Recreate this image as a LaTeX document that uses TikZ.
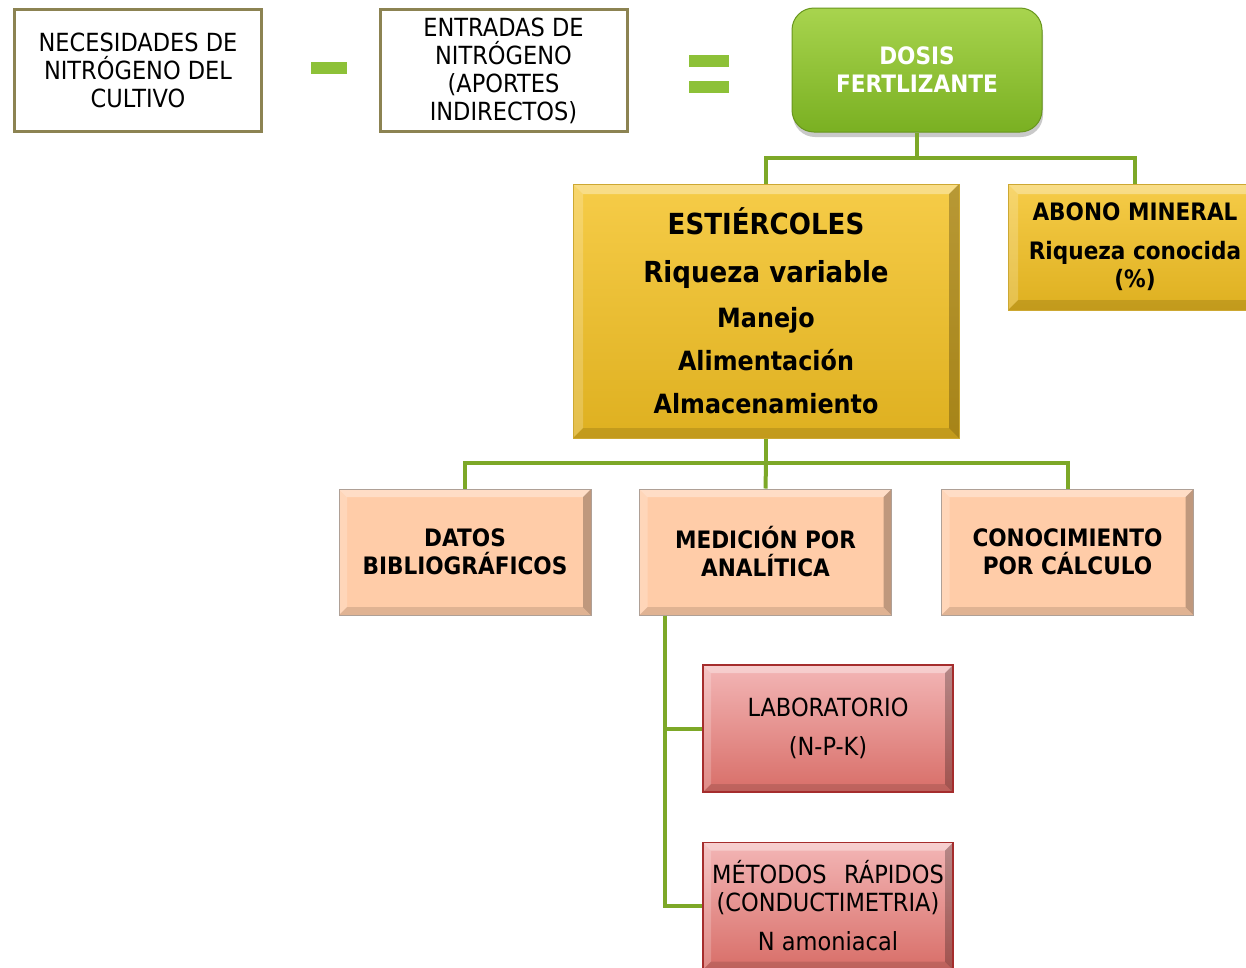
\documentclass[tikz,border=0pt]{standalone}
\usepackage{fontspec}
\setmainfont[FakeStretch=0.9]{DejaVu Sans}
\usetikzlibrary{shadows}
\definecolor{olivebd}{RGB}{140,131,82}
\definecolor{barg}{RGB}{141,193,56}
\definecolor{conng}{RGB}{125,168,40}
\definecolor{dosistop}{RGB}{168,212,78}
\definecolor{dosisbot}{RGB}{122,176,34}
\definecolor{goldtop}{RGB}{246,204,72}
\definecolor{goldbot}{RGB}{222,176,32}
\definecolor{goldbd}{RGB}{205,168,50}
\definecolor{peach}{RGB}{255,204,168}
\definecolor{peachbd}{RGB}{175,160,150}
\definecolor{redtop}{RGB}{243,182,182}
\definecolor{redbot}{RGB}{216,110,104}
\definecolor{redbd}{RGB}{165,45,45}
\tikzset{
  bevel/.style={path picture={
    \fill[white,opacity=.35] (path picture bounding box.north west) -- (path picture bounding box.north east)
      -- ([shift={(-#1,-#1)}]path picture bounding box.north east) -- ([shift={(#1,-#1)}]path picture bounding box.north west) -- cycle;
    \fill[white,opacity=.2] (path picture bounding box.north west) -- ([shift={(#1,-#1)}]path picture bounding box.north west)
      -- ([shift={(#1,#1)}]path picture bounding box.south west) -- (path picture bounding box.south west) -- cycle;
    \fill[black,opacity=.25] (path picture bounding box.north east) -- (path picture bounding box.south east)
      -- ([shift={(-#1,#1)}]path picture bounding box.south east) -- ([shift={(-#1,-#1)}]path picture bounding box.north east) -- cycle;
    \fill[black,opacity=.12] (path picture bounding box.south west) -- (path picture bounding box.south east)
      -- ([shift={(-#1,#1)}]path picture bounding box.south east) -- ([shift={(#1,#1)}]path picture bounding box.south west) -- cycle;
  }},
  topbox/.style={draw=olivebd, line width=3pt, fill=white, minimum width=247pt, minimum height=122pt,
    align=center, inner sep=0pt, font=\fontsize{25}{28}\selectfont},
  eqbar/.style={fill=barg, minimum width=36pt, minimum height=12pt, inner sep=0pt},
  dosisbox/.style={rounded corners=22pt, top color=dosistop, bottom color=dosisbot, draw=dosisbot!85!black,
    line width=1pt, minimum width=250pt, minimum height=124pt, text=white, align=center, inner sep=0pt,
    font=\bfseries\fontsize{24}{28}\selectfont,
    drop shadow={shadow xshift=1pt, shadow yshift=-5pt, opacity=.35, fill=black!60}},
  goldbox/.style={top color=goldtop, bottom color=goldbot, draw=goldbd, line width=1pt, bevel=10pt,
    align=center, inner sep=0pt},
  peachbox/.style={fill=peach, draw=peachbd, line width=1pt, bevel=8pt, minimum width=252pt, minimum height=126pt,
    align=center, inner sep=0pt, font=\bfseries\fontsize{24}{28}\selectfont},
  redbox/.style={top color=redtop, bottom color=redbot, draw=redbd, line width=1.5pt, bevel=8pt,
    minimum width=250pt, minimum height=127pt, align=center, inner sep=0pt, font=\fontsize{25}{28}\selectfont},
  conn/.style={draw=conng, line width=4pt}
}
\begin{document}
\begin{tikzpicture}[x=1pt,y=-1pt]
\path[use as bounding box, fill=white] (0,0) rectangle (1246,967);

\coordinate (j1) at (917,158);
\coordinate (j2) at (766,463);

% top row
\node[topbox] (nec) at (138,70) {NECESIDADES DE\\NITRÓGENO DEL\\CULTIVO};
\node[eqbar] (minus) at (328.5,68) {};
\node[topbox] (ent) at (503.5,70.5) {ENTRADAS DE\\NITRÓGENO\\(APORTES\\INDIRECTOS)};
\node[eqbar, minimum width=40pt] (eqa) at (708.5,61) {};
\node[eqbar, minimum width=40pt] (eqb) at (708.5,87) {};
\node[dosisbox] (dosis) at (917,70) {DOSIS\\FERTLIZANTE};

% second row
\node[goldbox, minimum width=386pt, minimum height=254pt, font=\bfseries\fontsize{26.5}{43}\selectfont] (est) at (766,311)
  {{\fontsize{29}{43}\selectfont ESTIÉRCOLES}\\[5pt]
   {\fontsize{29}{43}\selectfont Riqueza variable}\\[2pt]
   Manejo\\
   Alimentación\\
   Almacenamiento};
\node[goldbox, minimum width=254pt, minimum height=126pt, font=\bfseries\fontsize{24}{28}\selectfont] (abono) at (1135,247)
  {ABONO MINERAL\\[11pt]Riqueza conocida\\(\%)};

\draw[conn] (dosis.south) -- (j1);
\draw[conn] (est.north) |- (j1) -| (abono.north);

% third row
\node[peachbox] (datos) at (465,552) {DATOS\\BIBLIOGRÁFICOS};
\node[peachbox] (med) at (765.5,552) {MEDICIÓN POR\\ANALÍTICA};
\node[peachbox] (conoc) at (1067.5,552) {CONOCIMIENTO\\POR CÁLCULO};

\draw[conn] (est.south) -- (j2);
\draw[conn] (datos.north) |- (j2) -| (conoc.north);
\draw[conn] (j2) -- (med.north);

% fourth level
\node[redbox] (lab) at (828,728.5) {LABORATORIO\\[11pt](N-P-K)};
\node[redbox] (met) at (828,906) {MÉTODOS\hspace{0.7em}RÁPIDOS\\(CONDUCTIMETRIA)\\[11pt]N amoniacal};

\coordinate (m0) at ([xshift=26pt]med.south west);
\draw[conn] (m0) |- (lab.west);
\draw[conn] (m0) |- (met.west);
\end{tikzpicture}
\end{document}
